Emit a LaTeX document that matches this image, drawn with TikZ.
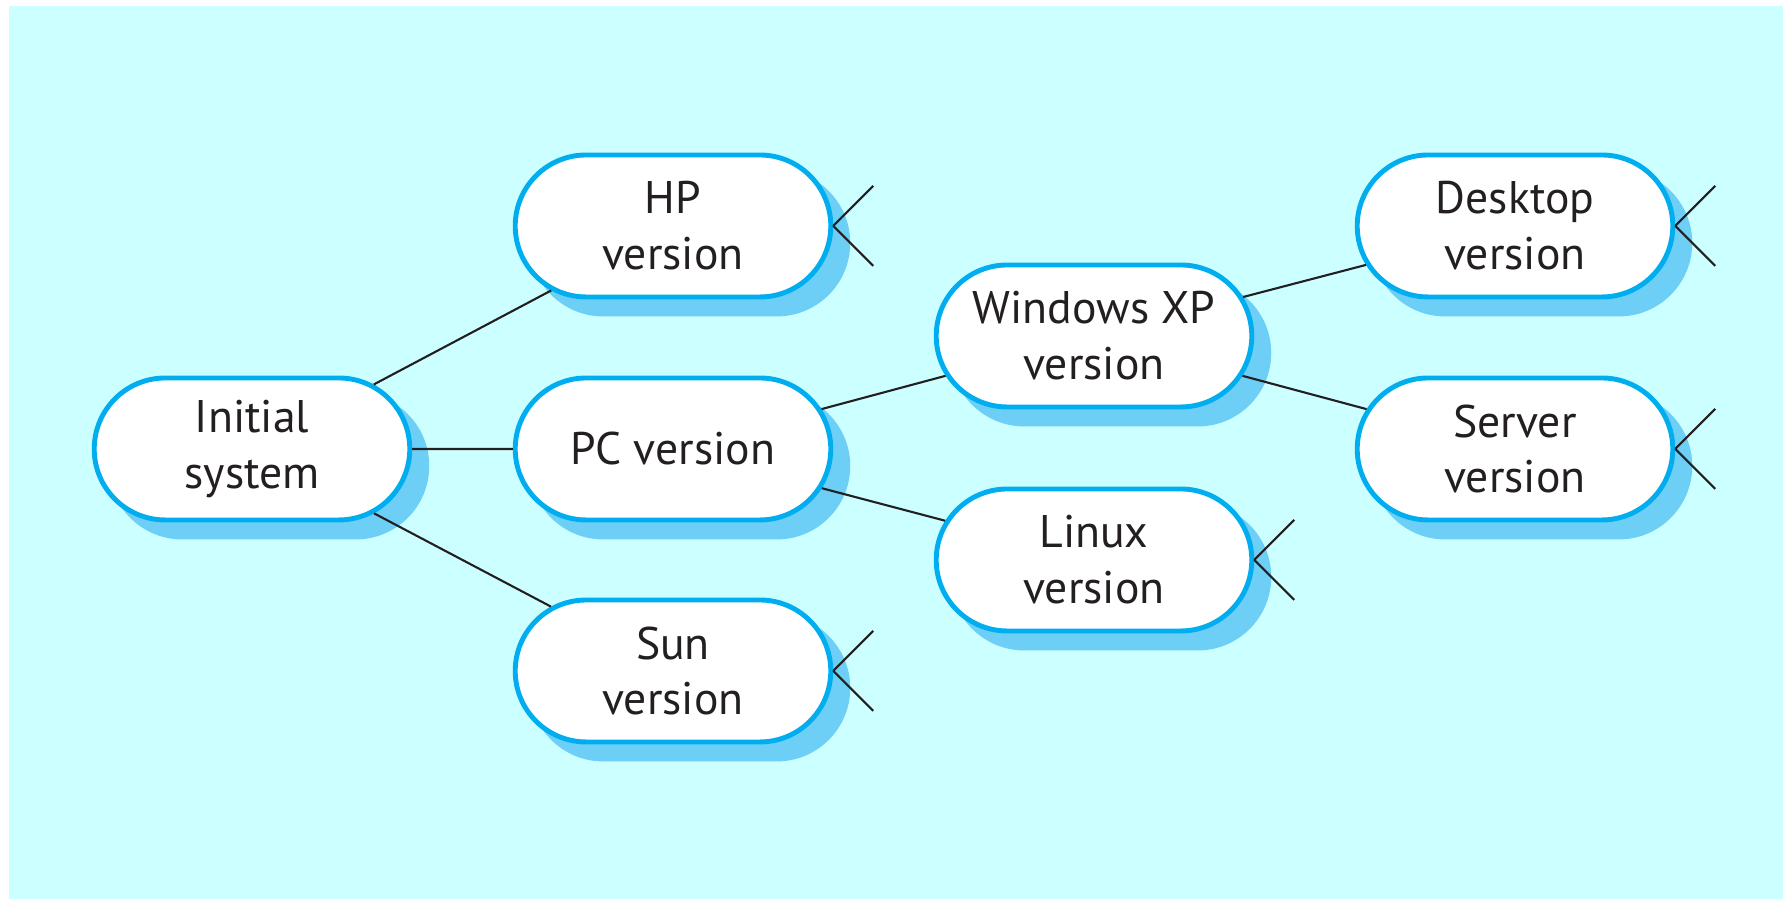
\documentclass[tikz,border=0pt]{standalone}
\usepackage{fontspec}
\setmainfont{PT Sans}
\usepackage{tikz}
\usetikzlibrary{shapes.misc, shadows}
\definecolor{bgcyan}{RGB}{204,255,255}
\definecolor{boxblue}{RGB}{0,174,239}
\definecolor{shadeblue}{RGB}{109,207,246}
\definecolor{inkdark}{RGB}{35,31,32}

\begin{document}
\begin{tikzpicture}[
    version/.style={rounded rectangle, draw=boxblue, fill=white, line width=1.4pt,
        minimum width=3.39cm, minimum height=1.42cm, align=center, text=inkdark,
        font=\fontsize{13}{15.9}\selectfont,
        drop shadow={shadow xshift=0.17cm, shadow yshift=-0.17cm, fill=shadeblue,
            draw=shadeblue, opacity=1}},
    link/.style={draw=inkdark, line width=0.6pt},
    cut/.style={draw=inkdark, line width=0.6pt}]
    % background
    \useasboundingbox (0,0) rectangle (17.83,8.99);
    \fill[bgcyan] (0.09,0) rectangle (17.83,8.93);

    % versions
    \node[version] (init) at (2.52,4.50) {Initial\\system};
    \node[version] (hp) at (6.73,6.73) {HP\\version};
    \node[version] (pc) at (6.73,4.50) {PC version};
    \node[version] (sun) at (6.73,2.28) {Sun\\version};
    \node[version] (win) at (10.94,5.63) {Windows XP\\version};
    \node[version] (linux) at (10.94,3.39) {Linux\\version};
    \node[version] (desk) at (15.15,6.73) {Desktop\\version};
    \node[version] (server) at (15.15,4.50) {Server\\version};

    % derivation links
    \draw[link] (init) -- (hp);
    \draw[link] (init) -- (pc);
    \draw[link] (init) -- (sun);
    \draw[link] (pc) -- (win);
    \draw[link] (pc) -- (linux);
    \draw[link] (win) -- (desk);
    \draw[link] (win) -- (server);

    % open ends
    \foreach \leaf in {hp, sun, linux, desk, server} {
        \draw[cut] (\leaf.east) -- ++(0.4,0.4);
        \draw[cut] (\leaf.east) -- ++(0.4,-0.4);
    }
\end{tikzpicture}
\end{document}
